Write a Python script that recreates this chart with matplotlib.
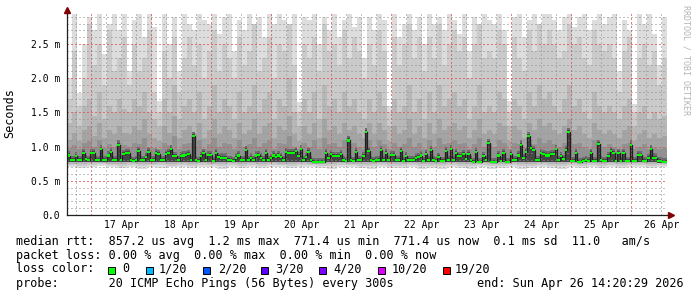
import numpy as np
import matplotlib
matplotlib.use("Agg")
import matplotlib.pyplot as plt
from datetime import datetime, timedelta

# ---------------- data (values in 1/100 ms) ----------------
END = datetime(2026, 4, 26, 14, 20, 29)
START = END - timedelta(days=10)

# hourly median rtt
median = [
    87, 80, 80, 86, 80, 80, 90, 82, 80, 91, 91, 80, 80, 97, 80, 81, 87, 92, 81, 81, 103, 81, 89, 91,
    91, 81, 79, 80, 93, 80, 80, 85, 92, 81, 81, 91, 89, 81, 81, 89, 90, 96, 86, 86, 80, 86, 87, 88,
    89, 80, 115, 80, 79, 86, 91, 80, 88, 88, 79, 90, 85, 84, 84, 84, 80, 80, 79, 84, 87, 80, 81, 95,
    81, 84, 80, 87, 88, 84, 80, 90, 81, 83, 87, 85, 87, 85, 80, 92, 91, 90, 90, 93, 86, 97, 81, 85,
    92, 80, 78, 78, 78, 78, 78, 91, 84, 89, 86, 86, 86, 89, 80, 79, 109, 80, 79, 92, 80, 80, 86, 121,
    94, 80, 79, 80, 80, 95, 80, 91, 81, 88, 88, 80, 80, 94, 79, 86, 80, 80, 81, 84, 85, 87, 79, 89,
    80, 95, 80, 79, 85, 79, 79, 94, 80, 97, 80, 90, 86, 86, 89, 82, 89, 80, 77, 92, 78, 78, 86, 80,
    105, 78, 78, 78, 87, 79, 91, 78, 78, 89, 81, 81, 87, 103, 83, 92, 115, 98, 95, 81, 81, 90, 89, 87,
    87, 89, 89, 97, 81, 86, 82, 95, 121, 79, 79, 90, 78, 78, 79, 81, 79, 90, 79, 79, 104, 80, 79, 79,
    86, 93, 90, 79, 91, 79, 91, 79, 79, 103, 79, 79, 88, 88, 79, 79, 83, 96, 84, 84, 79, 79, 78, 77,
]

# smoke: upper ping ranks, 2-hourly
smoke_p20 = [
    201, 300, 178, 250, 290, 270, 300, 235, 280, 300, 270, 295,
    210, 285, 300, 260, 295, 275, 167, 300, 250, 290, 210, 300,
    280, 270, 300, 285, 280, 300, 265, 290, 300, 240, 285, 270,
    300, 275, 290, 260, 300, 280, 295, 285, 270, 300, 165, 290,
    285, 300, 250, 290, 270, 300, 260, 285, 300, 275, 290, 230,
    290, 270, 300, 285, 160, 295, 260, 280, 300, 270, 290, 250,
    300, 280, 290, 270, 300, 285, 265, 300, 240, 290, 275, 300,
    285, 280, 300, 270, 167, 290, 300, 260, 285, 300, 270, 295,
    300, 285, 270, 290, 300, 275, 290, 300, 270, 285, 300, 280,
    290, 300, 210, 285, 270, 163, 295, 280, 300, 265, 220, 290,
]
smoke_p19 = [
    170, 240, 160, 200, 280, 220, 250, 190, 270, 210, 230, 260,
    190, 250, 210, 230, 270, 180, 150, 240, 200, 260, 180, 230,
    260, 220, 250, 200, 240, 270, 210, 250, 230, 200, 260, 220,
    240, 280, 210, 230, 260, 200, 250, 240, 280, 220, 150, 250,
    230, 260, 210, 280, 240, 250, 220, 270, 230, 260, 240, 200,
    250, 220, 270, 240, 150, 260, 220, 250, 280, 230, 260, 210,
    260, 230, 280, 220, 250, 270, 240, 260, 200, 250, 280, 230,
    240, 230, 270, 250, 150, 260, 230, 210, 270, 240, 280, 250,
    270, 250, 230, 240, 280, 250, 260, 230, 220, 270, 250, 240,
    250, 230, 180, 240, 260, 150, 230, 250, 220, 240, 190, 230,
]
smoke_p18 = [
    135, 150, 130, 160, 170, 145, 180, 140, 160, 150, 170, 155,
    150, 170, 160, 180, 150, 140, 130, 170, 150, 190, 140, 160,
    170, 150, 180, 140, 160, 190, 150, 170, 160, 140, 180, 150,
    160, 190, 150, 170, 180, 140, 170, 160, 200, 150, 130, 170,
    150, 180, 140, 190, 160, 170, 150, 180, 160, 170, 150, 140,
    170, 150, 180, 160, 130, 170, 150, 160, 190, 150, 170, 140,
    180, 150, 190, 160, 170, 180, 160, 170, 140, 160, 190, 150,
    160, 150, 180, 170, 130, 170, 160, 140, 180, 160, 190, 170,
    180, 160, 150, 170, 190, 160, 170, 150, 140, 180, 160, 150,
    160, 150, 140, 160, 170, 130, 150, 160, 140, 150, 140, 145,
]
smoke_p16 = [
    110, 120, 108, 125, 130, 115, 135, 112, 125, 118, 130, 120,
    118, 130, 125, 140, 118, 112, 108, 130, 120, 145, 112, 125,
    130, 118, 135, 112, 125, 140, 118, 130, 125, 112, 135, 118,
    125, 140, 118, 130, 135, 112, 130, 125, 145, 118, 108, 130,
    118, 135, 112, 140, 125, 130, 118, 135, 125, 130, 118, 112,
    135, 118, 135, 125, 108, 130, 118, 125, 140, 118, 130, 112,
    135, 118, 140, 125, 130, 135, 125, 130, 112, 125, 140, 118,
    125, 118, 135, 130, 108, 130, 125, 112, 135, 125, 140, 130,
    135, 125, 118, 130, 140, 125, 130, 118, 112, 135, 125, 118,
    125, 118, 112, 125, 130, 108, 118, 125, 112, 118, 112, 115,
]
smoke_p14 = [
    98, 102, 96, 105, 108, 100, 110, 98, 104, 100, 106, 102,
    100, 106, 104, 112, 100, 98, 96, 106, 102, 115, 97, 104,
    106, 100, 110, 97, 104, 112, 100, 106, 104, 97, 110, 100,
    104, 112, 100, 106, 110, 97, 106, 104, 115, 100, 96, 106,
    100, 110, 97, 112, 104, 106, 100, 110, 104, 106, 100, 97,
    110, 100, 110, 104, 96, 106, 100, 104, 112, 100, 106, 97,
    110, 100, 112, 104, 106, 110, 104, 106, 97, 104, 112, 100,
    104, 100, 110, 106, 96, 106, 104, 97, 110, 104, 112, 106,
    110, 104, 100, 106, 112, 104, 106, 100, 97, 110, 104, 100,
    104, 100, 97, 104, 106, 96, 100, 104, 97, 100, 97, 98,
]
# smoke: lower ping ranks, 4-hourly
smoke_p1 = [
    70, 69, 70, 71, 70, 69, 70, 68, 70, 69, 70, 70, 69, 70, 70, 68, 70, 69, 70, 69,
    70, 70, 69, 70, 70, 69, 68, 70, 70, 69, 68, 70, 69, 69, 70, 68, 69, 68, 70, 69,
    68, 70, 68, 69, 70, 68, 69, 70, 69, 68, 70, 69, 70, 69, 70, 69, 70, 70, 69, 70,
]
smoke_p2 = [
    73, 72, 73, 74, 73, 72, 73, 72, 73, 73, 72, 73, 72, 73, 73, 72, 73, 72, 73, 72,
    73, 73, 72, 73, 73, 72, 72, 73, 73, 72, 72, 73, 72, 72, 73, 72, 72, 72, 73, 72,
    72, 73, 72, 72, 73, 72, 72, 73, 72, 72, 73, 72, 73, 72, 73, 72, 73, 73, 72, 73,
]
smoke_p3 = [
    75, 75, 76, 76, 75, 75, 76, 75, 75, 76, 75, 76, 75, 76, 75, 75, 76, 75, 76, 75,
    76, 75, 75, 76, 75, 75, 75, 76, 75, 75, 75, 76, 75, 75, 76, 75, 75, 75, 76, 75,
    75, 76, 75, 75, 76, 75, 75, 76, 75, 75, 76, 75, 76, 75, 76, 75, 76, 76, 75, 76,
]
smoke_core = [
    77, 77, 78, 78, 77, 77, 78, 77, 77, 78, 77, 78, 77, 78, 77, 77, 78, 77, 78, 77,
    78, 77, 77, 78, 77, 77, 77, 78, 77, 77, 77, 78, 77, 77, 78, 77, 77, 77, 78, 77,
    77, 78, 77, 77, 78, 77, 77, 78, 77, 77, 78, 77, 78, 77, 77, 77, 77, 77, 77, 76,
]

xtick_labels = ["17 Apr", "18 Apr", "19 Apr", "20 Apr", "21 Apr",
                "22 Apr", "23 Apr", "24 Apr", "25 Apr", "26 Apr"]
ytick_values = [0.0, 0.5, 1.0, 1.5, 2.0, 2.5]
ytick_labels = ["0.0", "0.5 m", "1.0 m", "1.5 m", "2.0 m", "2.5 m"]

legend_rows = [
    "median rtt:  857.2 us avg  1.2 ms max  771.4 us min  771.4 us now  0.1 ms sd  11.0   am/s",
    "packet loss: 0.00 % avg  0.00 % max  0.00 % min  0.00 % now",
    "loss color:",
    "probe:       20 ICMP Echo Pings (56 Bytes) every 300s",
]
end_text = "end: Sun Apr 26 14:20:29 2026"
loss_labels = ["0", "1/20", "2/20", "3/20", "4/20", "10/20", "19/20"]
loss_colors = ["#00ff00", "#00b8ff", "#0059ff", "#5e00ff", "#7e00ff", "#dd00ff", "#ff0000"]

# ---------------- figure ----------------
W, H = 697, 297
fig = plt.figure(figsize=(W / 100, H / 100), dpi=100)
fig.patch.set_facecolor("white")
L, R, T, B = 67, 667, 14, 215
ax = fig.add_axes([L / W, 1 - B / H, (R - L) / W, (B - T) / H])
ax.set_facecolor("white")
MONO = "DejaVu Sans Mono"

def expand(a, n):
    v = np.repeat(np.asarray(a, float) / 100.0, n)
    return np.append(v, v[-1])

med = expand(median, 1)
p20, p19, p18, p16, p14 = (expand(a, 2) for a in (smoke_p20, smoke_p19, smoke_p18, smoke_p16, smoke_p14))
p1, p2, p3, core = (expand(a, 4) for a in (smoke_p1, smoke_p2, smoke_p3, smoke_core))
core = np.minimum(core, med)
xe = np.arange(len(med))  # hours since START

def band(lo, hi, color, z):
    ax.fill_between(xe, lo, hi, step="post", color=color, lw=0, zorder=z)

band(p1, p20, "#dddddd", 1)
band(p2, p19, "#cacaca", 2)
band(p3, p18, "#b7b7b7", 3)
band(core, p16, "#a4a4a4", 4)
band(core, np.maximum(p14, med), "#919191", 5)
band(core, med + 0.06, "#6b6b6b", 6)
band(core, med + 0.03, "#454545", 7)

ax.step(xe, med, where="post", color="#202020", lw=0.9, zorder=9)
sw = 0.015
band(med - sw, med + sw, loss_colors[0], 10)

ymax = 2.94
ax.set_xlim(0, 240)
ax.set_ylim(0, ymax)

# grid (dotted, drawn over the smoke)
DOT = (0, (1, 2))
MINOR_C, MAJOR_C = (0.56, 0.56, 0.56), (0.87, 0.31, 0.31)
hours = lambda dt: (dt - START).total_seconds() / 3600.0
first_mid = datetime(2026, 4, 17)
for k in range(0, 60):
    t = hours(first_mid + timedelta(hours=6 * k - 24))
    if 0 < t < 240:
        major = (k % 4 == 0)
        ax.axvline(t, color=MAJOR_C if major else MINOR_C, alpha=0.75 if major else 0.55,
                   lw=1.0, ls=DOT, zorder=8, antialiased=False)
for k in range(1, 30):
    v = k * 0.1
    if v >= ymax:
        break
    major = (k % 5 == 0)
    ax.axhline(v, color=MAJOR_C if major else MINOR_C, alpha=0.75 if major else 0.55,
               lw=1.0, ls=DOT, zorder=8, antialiased=False)

# ticks
noon = [hours(datetime(2026, 4, 17, 12) + timedelta(days=d)) for d in range(len(xtick_labels))]
ax.set_xticks(noon)
ax.set_xticklabels(xtick_labels, fontfamily=MONO, fontsize=7)
ax.set_yticks(ytick_values)
ax.set_yticklabels(ytick_labels, fontfamily=MONO, fontsize=7)
ax.tick_params(axis="x", length=0, pad=3.5)
ax.tick_params(axis="y", length=0, pad=5)
for s in ax.spines.values():
    s.set_visible(False)

# axes lines and arrows
axis_col = (0.12, 0.12, 0.12)
ax.plot([0, 0], [0, 1.005], transform=ax.transAxes, color=axis_col, lw=0.9, clip_on=False, zorder=12)
ax.plot([0, 1.005], [0, 0], transform=ax.transAxes, color=axis_col, lw=0.9, clip_on=False, zorder=12)
ax.plot([0], [1.0175], marker="^", ms=4.2, color="#800000", mec="#800000",
        transform=ax.transAxes, clip_on=False, zorder=13)
ax.plot([1.0067], [0], marker=">", ms=4.2, color="#800000", mec="#800000",
        transform=ax.transAxes, clip_on=False, zorder=13)

# y label
fig.text(10 / W, 1 - 113 / H, "Seconds", rotation=90, ha="center", va="center",
         fontfamily=MONO, fontsize=8.5)
# watermark
fig.text(686 / W, 1 - 60 / H, "RRDTOOL / TOBI OETIKER", rotation=270, ha="center", va="center",
         fontfamily=MONO, fontsize=6, color="#b4b4b4")

# legend
def fy(y):
    return 1 - y / H

rows_y = [241, 255, 269, 283]
for txt, y in zip(legend_rows, rows_y):
    fig.text(16 / W, fy(y), txt, ha="left", va="center", fontfamily=MONO, fontsize=8.5)
fig.text(684 / W, fy(283), end_text, ha="right", va="center", fontfamily=MONO, fontsize=8.5)

box_x = [108, 146, 203, 261, 319, 378, 443]
lab_x = [122, 159, 218, 275, 333, 392, 455]
for bx, lx, lab, col in zip(box_x, lab_x, loss_labels, loss_colors):
    fig.patches.append(plt.Rectangle((bx / W, fy(274)), 7 / W, 7 / H, transform=fig.transFigure,
                                     facecolor=col, edgecolor="black", lw=0.7))
    fig.text(lx / W, fy(269), lab, ha="left", va="center", fontfamily=MONO, fontsize=8.5)

fig.savefig("out.png", dpi=100)
